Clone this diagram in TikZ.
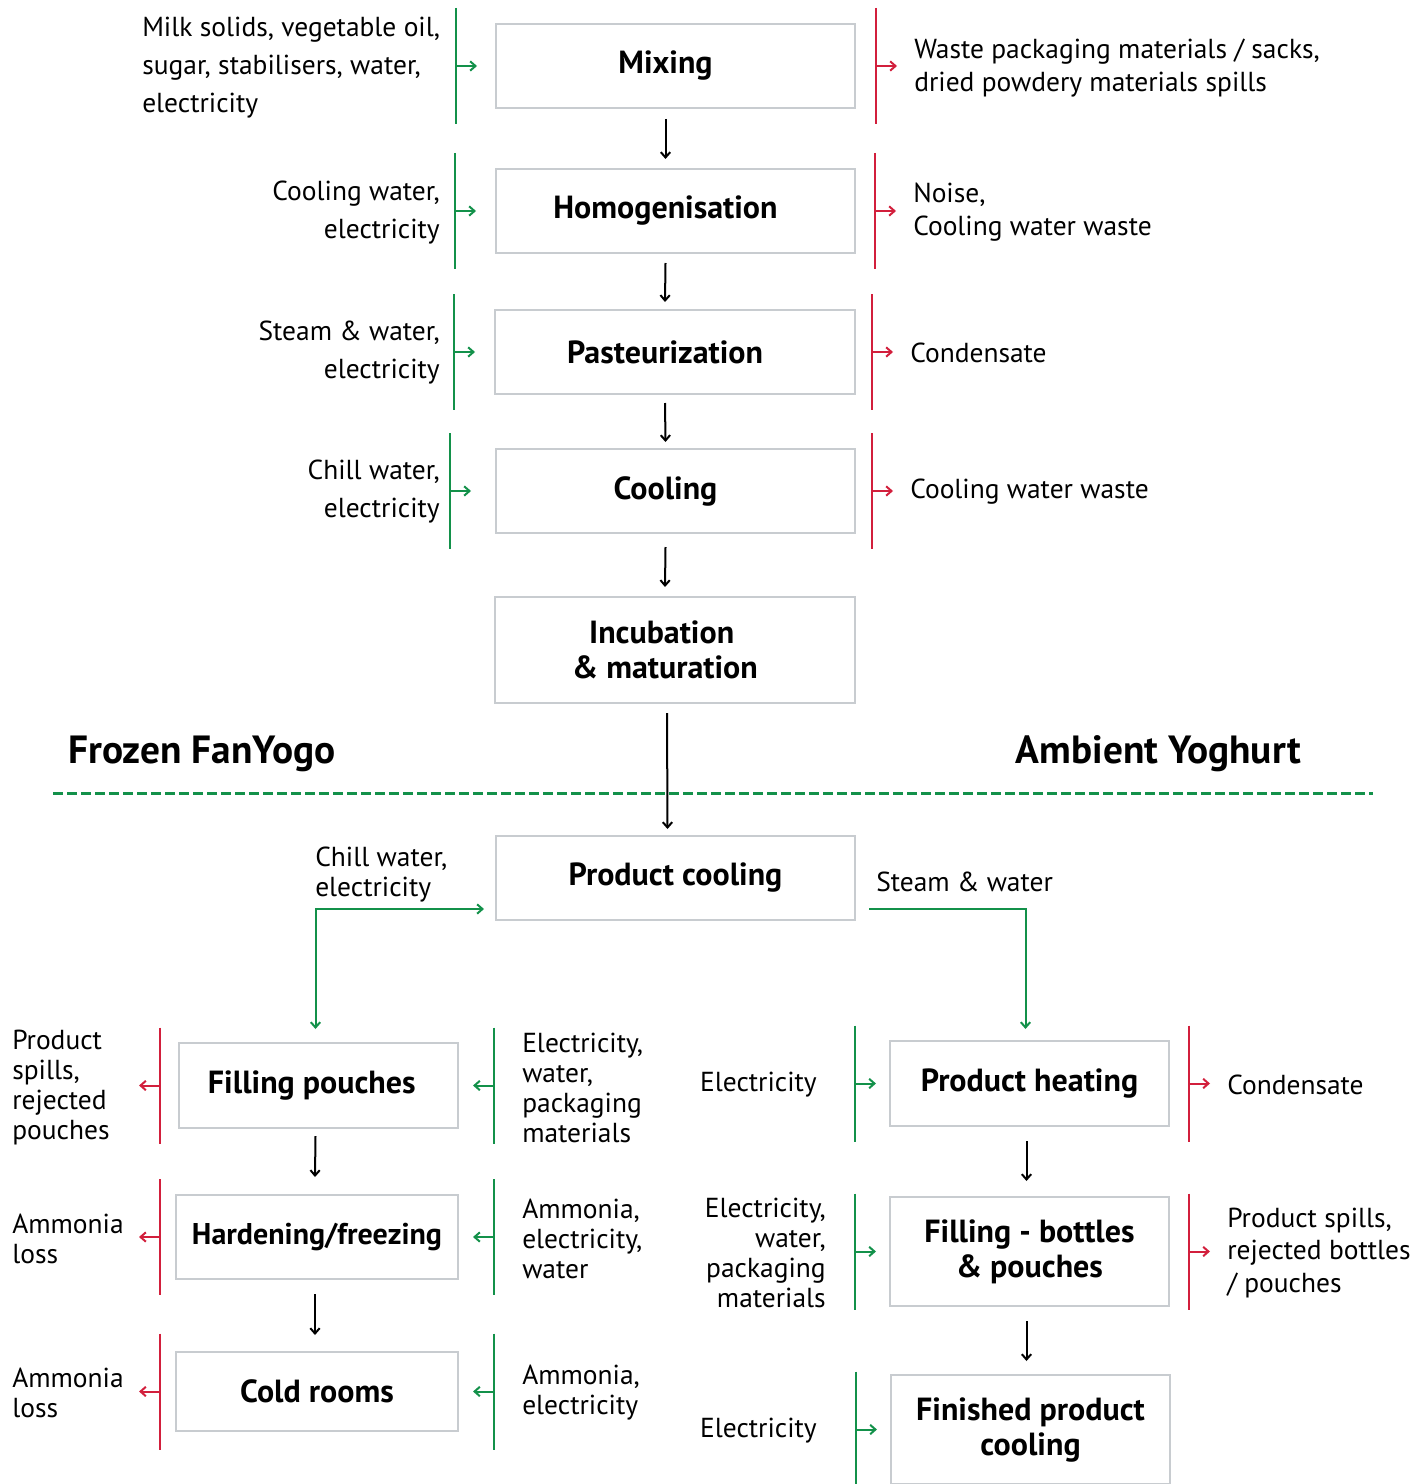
\documentclass[tikz,border=0pt]{standalone}
\usepackage{fontspec}
\setmainfont{PT Sans}
\usetikzlibrary{arrows.meta, calc}
\definecolor{ingreen}{HTML}{13914A}
\definecolor{outred}{HTML}{D21F3C}
\definecolor{boxgray}{HTML}{C8CCD0}
\begin{document}
\begin{tikzpicture}
	  [x=0.75pt, y=-0.75pt,
	  %
	  block/.style={rectangle, draw=boxgray, line width=1.5pt, minimum width=269.25pt, minimum height=63pt, align=center, inner sep=0pt, font=\fontsize{24}{26.25}\selectfont\bfseries},
	  %
	  leftset/.style={execute at end node={\hspace*{15pt}}},
	  %
	  flowtext/.style={inner sep=0pt, yshift=-2.25pt, font=\fontsize{20.6}{28.5}\selectfont},
	  %
	  smalltext/.style={inner sep=0pt, yshift=-2.25pt, font=\fontsize{20.6}{22.5}\selectfont},
	  %
	  headtext/.style={inner sep=0pt, yshift=-2.25pt, font=\fontsize{29.5}{32}\selectfont\bfseries},
	  %
	  flowline/.style={draw=black, line width=1.5pt, arrows={-{Straight Barb[length=4pt, width=7pt]}}},
	  %
	  inbar/.style={draw=ingreen, line width=1.5pt},
	  %
	  outbar/.style={draw=outred, line width=1.5pt},
	  %
	  inarrow/.style={inbar, arrows={-{Straight Barb[length=4pt, width=7pt]}}},
	  %
	  outarrow/.style={outbar, arrows={-{Straight Barb[length=4pt, width=7pt]}}},
	  %
	  divider/.style={draw=ingreen, line width=2.25pt, dash pattern=on 7.5pt off 3pt}]

	    \useasboundingbox (0,0) rectangle (1427,1484);

	    % main line
	    \node [block, leftset] (mix) at (675.5,66) {Mixing};
	    \node [block, leftset] (hom) at (675.5,211) {Homogenisation};
	    \node [block, leftset, minimum width=270pt] (pas) at (675,352) {Pasteurization};
	    \node [block, leftset] (coo) at (675.5,491) {Cooling};
	    \node [block, minimum width=270pt, minimum height=79.5pt] (inc) at (675,650) {Incubation\hspace*{20pt}\\ \& maturation\hspace*{15pt}};
	    \node [block] (pcool) at (675.5,878) {Product cooling};

	    % frozen branch
	    \node [block, minimum width=209.25pt, minimum height=63.75pt] (fil) at (318.5,1085.5) {Filling pouches\hspace*{10pt}};
	    \node [block, minimum width=211.5pt, font=\fontsize{22.5}{26}\selectfont\bfseries] (har) at (317,1237) {Hardening/freezing};
	    \node [block, minimum width=211.5pt, minimum height=59.25pt] (cold) at (317,1391.5) {Cold rooms};

	    % ambient branch
	    \node [block, minimum width=209.25pt, minimum height=63.75pt] (heat) at (1029.5,1083.5) {Product heating};
	    \node [block, minimum width=209.25pt, minimum height=81.75pt] (fbot) at (1029.5,1251.5) {Filling - bottles\\ \& pouches};
	    \node [block, minimum width=209.25pt, minimum height=81.75pt] (fin) at (1030.5,1429.5) {Finished product\\ cooling};

	    % headings
	    \node [headtext, anchor=west] (frozen) at (68,751) {Frozen FanYogo};
	    \node [headtext, anchor=east] (ambient) at (1301,751) {Ambient Yoghurt};
	    \coordinate (divl) at (53,793);
	    \coordinate (divr) at (1373,793);
	    \draw [divider] (divl) -- (divr);

	    % inputs and outputs, main line
	    \node [flowtext, anchor=west, align=left] (inmix) at (142,65) {Milk solids, vegetable oil,\\sugar, stabilisers, water,\\electricity};
	    \node [flowtext, anchor=west, align=left, font=\fontsize{20.6}{24.75}\selectfont] (outmix) at (914,65) {Waste packaging materials / sacks,\\dried powdery materials spills};
	    \node [flowtext, anchor=east, align=right] (inhom) at (440,210) {Cooling water,\\electricity};
	    \node [flowtext, anchor=west, align=left, font=\fontsize{20.6}{24.75}\selectfont] (outhom) at (913,209) {Noise,\\Cooling water waste};
	    \node [flowtext, anchor=east, align=right] (inpas) at (440,350) {Steam \& water,\\electricity};
	    \node [flowtext, anchor=west] (outpas) at (910,350) {Condensate};
	    \node [flowtext, anchor=east, align=right] (incoo) at (440,489) {Chill water,\\electricity};
	    \node [flowtext, anchor=west] (outcoo) at (910,489) {Cooling water waste};

	    % inputs and outputs, branches
	    \node [smalltext, anchor=west, align=left] (inpcool) at (315,872) {Chill water,\\electricity};
	    \node [smalltext, anchor=west] (steam) at (876,879) {Steam \& water};
	    \node [smalltext, anchor=west, align=left] (outfil) at (12,1085) {Product\\spills,\\rejected\\pouches};
	    \node [smalltext, anchor=west, align=left] (infil) at (522,1085) {Electricity,\\water,\\packaging\\materials};
	    \node [smalltext, anchor=west, align=left] (outhar) at (12,1236) {Ammonia\\loss};
	    \node [smalltext, anchor=west, align=left] (inhar) at (522,1236) {Ammonia,\\electricity,\\water};
	    \node [smalltext, anchor=west, align=left] (outcold) at (12,1390) {Ammonia\\loss};
	    \node [smalltext, anchor=west, align=left] (incold) at (522,1390) {Ammonia,\\electricity};
	    \node [smalltext, anchor=east] (inheat) at (817,1082) {Electricity};
	    \node [smalltext, anchor=west] (outheat) at (1227,1082) {Condensate};
	    \node [smalltext, anchor=east, align=right] (infbot) at (826,1250) {Electricity,\\water,\\packaging\\materials};
	    \node [smalltext, anchor=west, align=left, font=\fontsize{20.6}{24.4}\selectfont] (outfbot) at (1227,1250) {Product spills,\\rejected bottles\\/ pouches};
	    \node [smalltext, anchor=east] (infin) at (817,1428) {Electricity};

	    % process flow
	    \draw [flowline] ($(mix.south)+(-10,10)$) -- ($(hom.north)+(-10,-9)$);
	    \draw [flowline] ($(hom.south)+(-10,9)$) -- ($(pas.north)+(-10,-7)$);
	    \draw [flowline] ($(pas.south)+(-10,8)$) -- ($(coo.north)+(-10,-6)$);
	    \draw [flowline] ($(coo.south)+(-10,13)$) -- ($(inc.north)+(-10,-9)$);
	    \draw [flowline] ($(inc.south)+(-8,9)$) -- ($(pcool.north)+(-8,-6)$);
	    \draw [flowline] ($(fil.south)+(-3,7)$) -- ($(har.north)+(-2,-17)$);
	    \draw [flowline] ($(har.south)+(-2,14)$) -- ($(cold.north)+(-2,-16)$);
	    \draw [flowline] ($(heat.south)+(-3,14)$) -- ($(fbot.north)+(-3,-15)$);
	    \draw [flowline] ($(fbot.south)+(-3,14)$) -- ($(fin.north)+(-4,-13)$);

	    % split after product cooling
	    \draw [inbar, arrows={{Straight Barb[length=4pt, width=7pt]}-{Straight Barb[length=4pt, width=7pt]}}] ($(fil.north)+(-3,-13)$) |- ($(pcool.west)+(-11,31)$);
	    \draw [inarrow] ($(pcool.east)+(13,31)$) -| ($(heat.north)+(-4,-11)$);

	    % brackets: inputs left, outputs right
	    \foreach \n/\g/\r in {mix/39/20, hom/40/19, pas/40/16, coo/45/16, heat/34/19, fbot/34/19}
	    {
	      \draw [inbar] ($(\n.west)+(-\g,-58)$) -- ($(\n.west)+(-\g,58)$);
	      \draw [inarrow] ($(\n.west)+(-\g,0)$) -- ($(\n.west)+(-\g+21,0)$);
	      \draw [outbar] ($(\n.east)+(\r,-58)$) -- ($(\n.east)+(\r,58)$);
	      \draw [outarrow] ($(\n.east)+(\r,0)$) -- ($(\n.east)+(\r+21,0)$);
	    }
	    \draw [inbar] ($(fin.west)+(-34,-58)$) -- ($(fin.west)+(-34,58)$);
	    \draw [inarrow] ($(fin.west)+(-34,0)$) -- ($(fin.west)+(-13,0)$);

	    % brackets: outputs left, inputs right
	    \foreach \n/\r/\g in {fil/18/35, har/15/35, cold/15/35}
	    {
	      \draw [outbar] ($(\n.west)+(-\r,-58)$) -- ($(\n.west)+(-\r,58)$);
	      \draw [outarrow] ($(\n.west)+(-\r,0)$) -- ($(\n.west)+(-\r-21,0)$);
	      \draw [inbar] ($(\n.east)+(\g,-58)$) -- ($(\n.east)+(\g,58)$);
	      \draw [inarrow] ($(\n.east)+(\g,0)$) -- ($(\n.east)+(\g-21,0)$);
	    }
	  \end{tikzpicture}
\end{document}
